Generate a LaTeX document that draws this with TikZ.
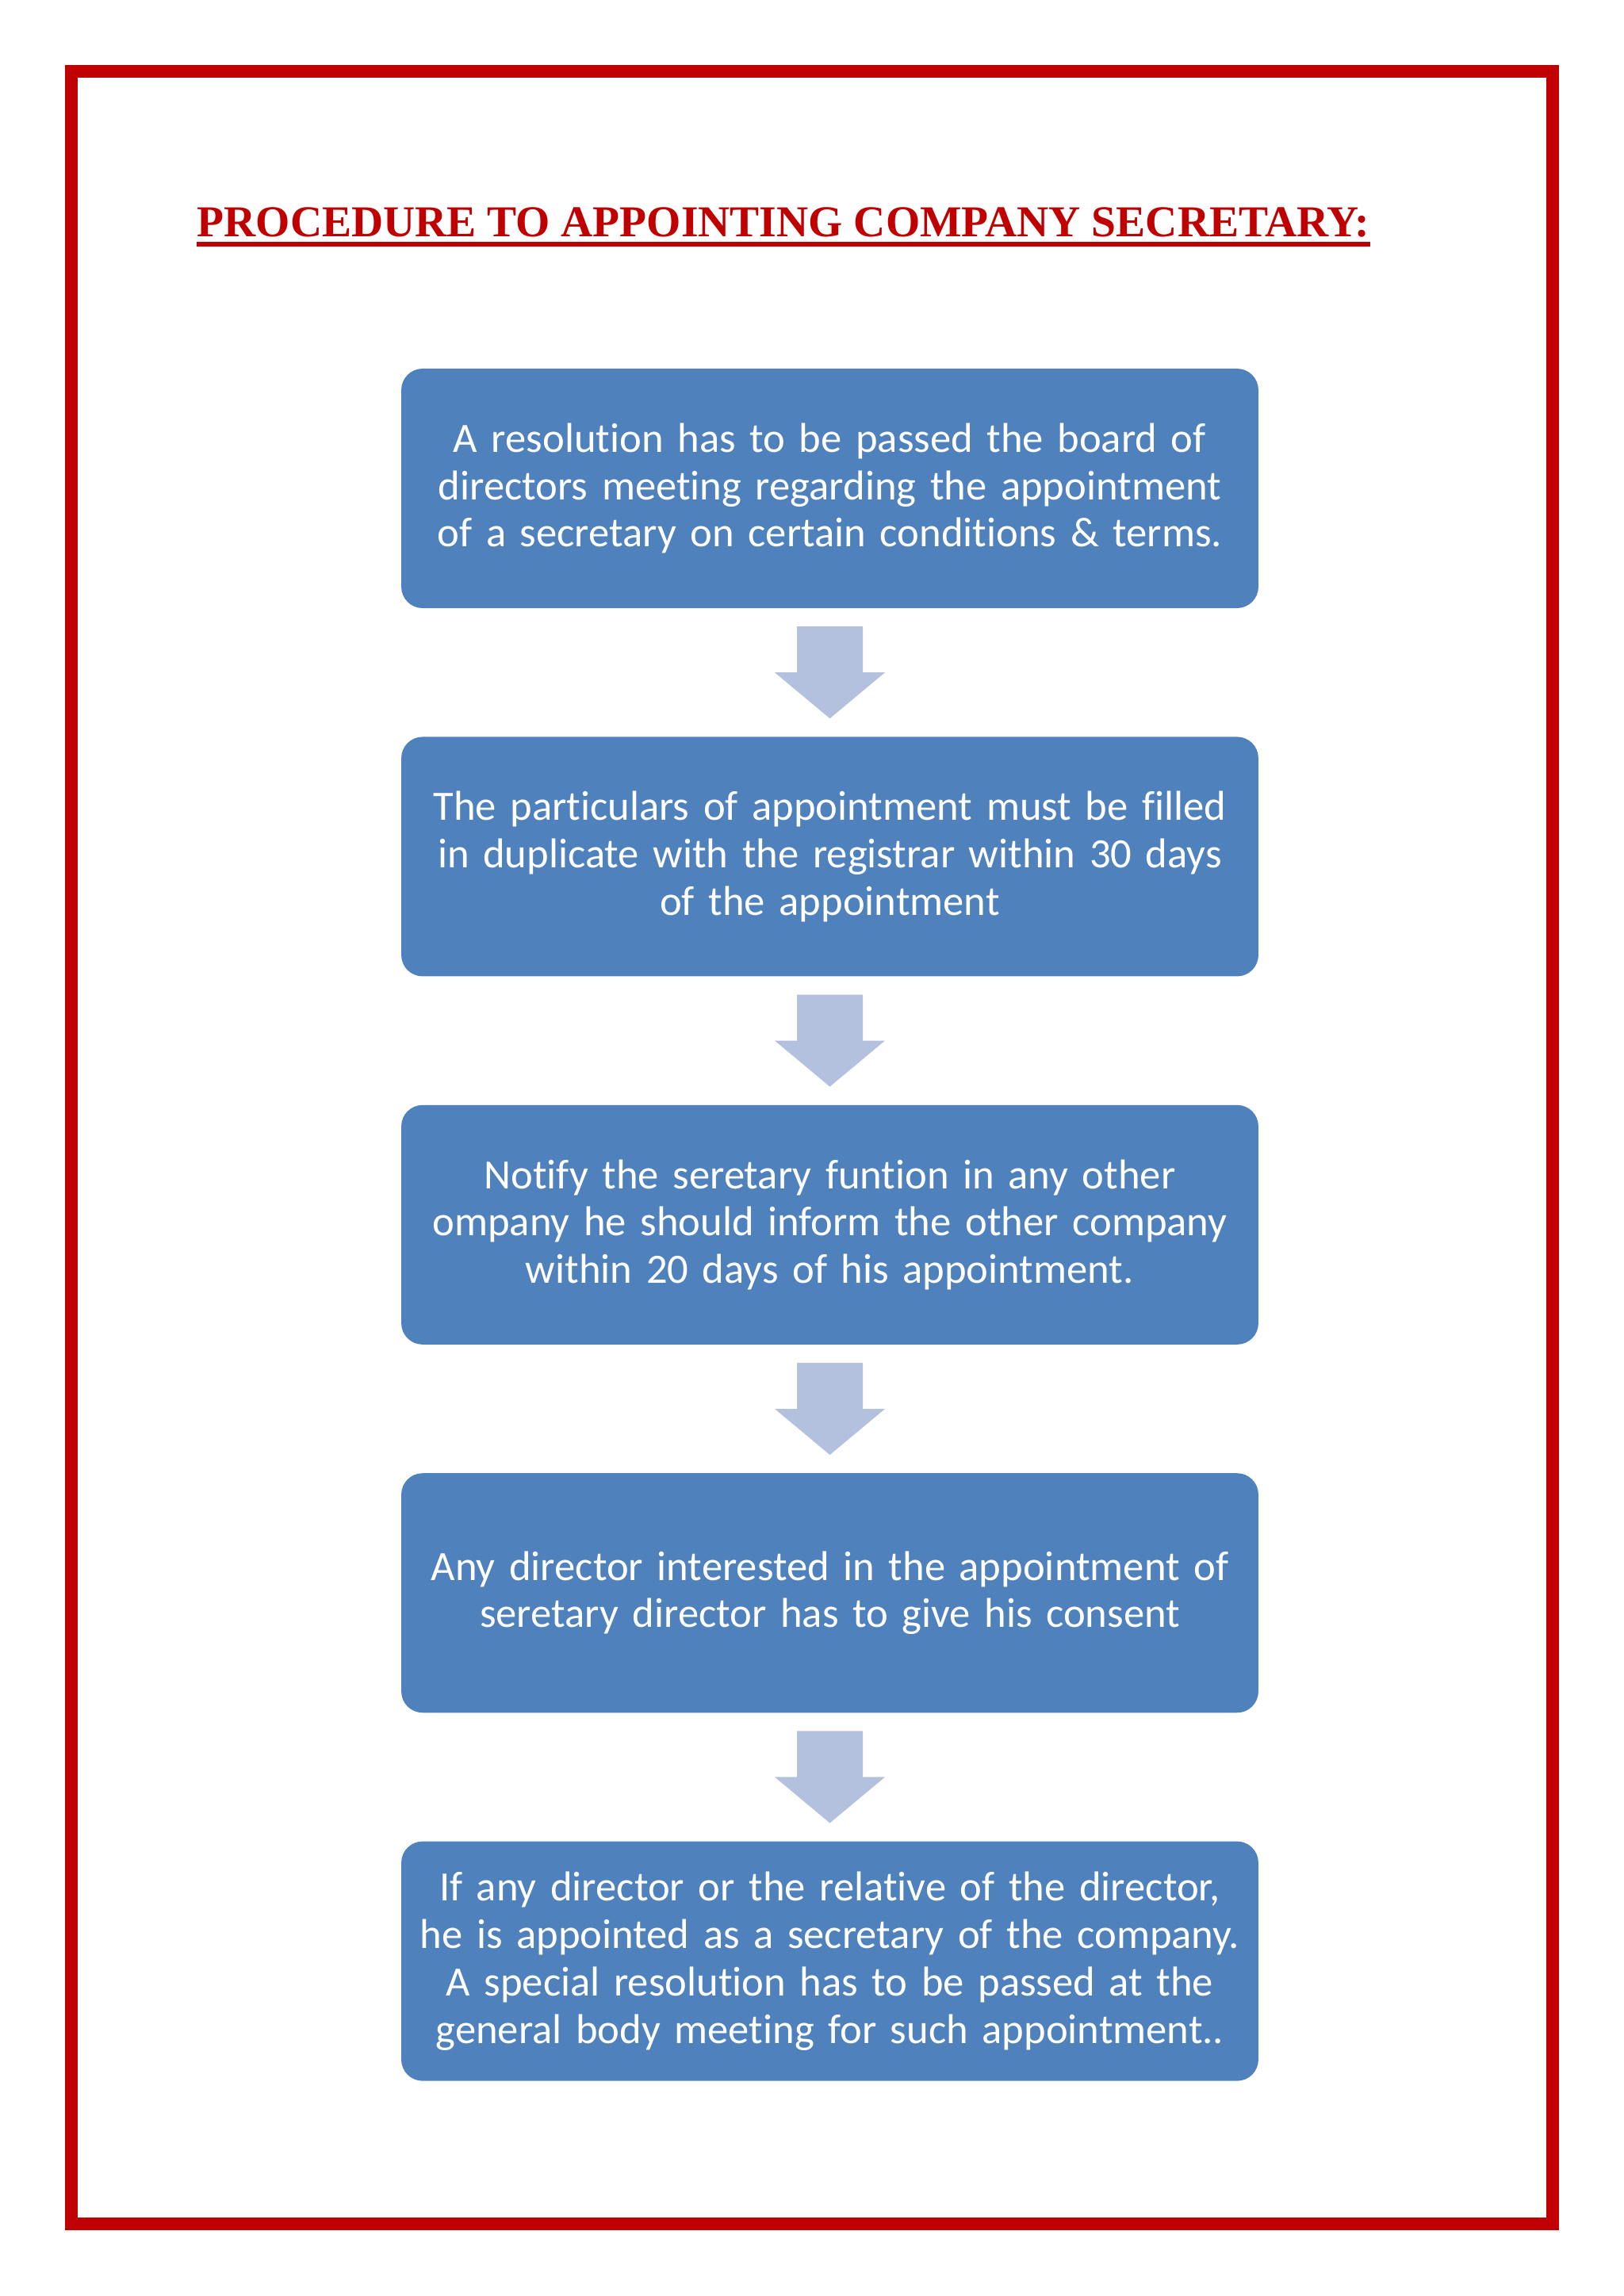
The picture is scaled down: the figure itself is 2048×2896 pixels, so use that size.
\documentclass[tikz,border=0pt]{standalone}
\usepackage{fontspec}
\usepackage{tikz}
\usetikzlibrary{positioning,calc}
\setmainfont{Liberation Serif}
\newfontfamily\boxfont[Ligatures=NoCommon,RawFeature={-liga;-clig;-calt;-dlig}]{Carlito}
\definecolor{framered}{HTML}{C00000}
\definecolor{boxblue}{HTML}{4F81BD}
\definecolor{arrowblue}{HTML}{B3C1DE}
\tikzset{  stepbox/.style={rectangle,rounded corners=7.8pt,fill=boxblue,text=white,inner sep=0pt,
    text width=314.2pt,minimum width=314.2pt,minimum height=87.8pt,align=center,
    font=\boxfont\fontsize{15.3}{17.4}\selectfont},
  titletext/.style={anchor=base west,inner sep=0pt,text=framered,font=\bfseries\fontsize{16.16}{19}\selectfont} }
\newcommand{\flowarrow}[2]{\fill[arrowblue] ($(#1.south)!.5!(#2.north)$) ++(-41.5,-58) -- ++(83,0) -- ++(0,58) -- ++(28,0) -- ++(-69.5,58) -- ++(-69.5,-58) -- ++(28,0) -- cycle;}

\begin{document}
\begin{tikzpicture}[x=0.2907pt,y=-0.2907pt,node distance=46.8pt]
   \useasboundingbox (0,0) rectangle (2048,2896);
   \draw[framered,line width=4.65pt] (90,90) rectangle (1958,2805);
   \node[titletext] (title) at (248,298) {PROCEDURE TO APPOINTING COMPANY SECRETARY:};
   \draw[framered,line width=1.7pt] ([yshift=-2.9pt]title.base west) -- ([yshift=-2.9pt]title.base east);
   \node[stepbox] (resolution) at (1046.5,616) {A resolution has to be passed the board of\\ directors meeting regarding the appointment\\ of a secretary on certain conditions \& terms.};
   \node[stepbox,below=of resolution] (filing) {The particulars of appointment must be filled\\ in duplicate with the registrar within 30 days\\ of the appointment};
   \node[stepbox,below=of filing] (notify) {Notify the seretary funtion in any other\\ ompany he should inform the other company\\ within 20 days of his appointment.};
   \node[stepbox,below=of notify] (consent) {Any director interested in the appointment of\\ seretary director has to give his consent};
   \node[stepbox,below=of consent] (special) {If any director or the relative of the director,\\ he is appointed as a secretary of the company.\\ A special resolution has to be passed at the\\ general body meeting for such appointment..};
   \flowarrow{resolution}{filing}
   \flowarrow{filing}{notify}
   \flowarrow{notify}{consent}
   \flowarrow{consent}{special}
\end{tikzpicture}
\end{document}
